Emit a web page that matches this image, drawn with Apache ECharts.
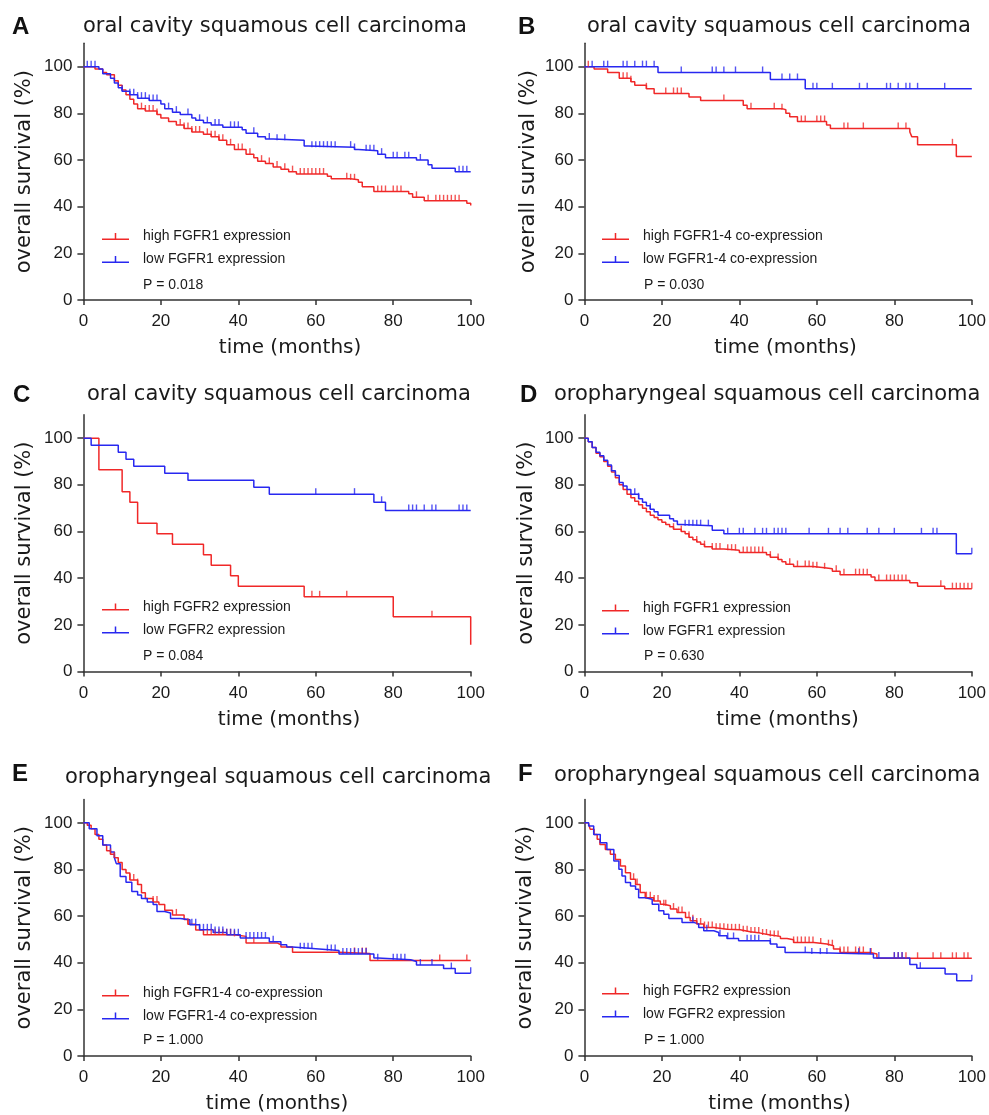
<!DOCTYPE html>
<html>
<head>
<meta charset="utf-8">
<script src="https://cdn.jsdelivr.net/npm/echarts@6/dist/echarts.min.js"></script>
<style>
html,body{margin:0;padding:0;background:#fff;}
#chart{width:989px;height:1115px;}
</style>
</head>
<body>
<div id="chart"></div>
<script>
// ---------- data ----------
const xTicks = [0, 20, 40, 60, 80, 100];
const yTicks = [0, 20, 40, 60, 80, 100];
const panelLetters = ['A', 'B', 'C', 'D', 'E', 'F'];
const panelTitles = [
  'oral cavity squamous cell carcinoma',
  'oral cavity squamous cell carcinoma',
  'oral cavity squamous cell carcinoma',
  'oropharyngeal squamous cell carcinoma',
  'oropharyngeal squamous cell carcinoma',
  'oropharyngeal squamous cell carcinoma'
];
const highNames = ['high FGFR1 expression', 'high FGFR1-4 co-expression', 'high FGFR2 expression',
                   'high FGFR1 expression', 'high FGFR1-4 co-expression', 'high FGFR2 expression'];
const lowNames = ['low FGFR1 expression', 'low FGFR1-4 co-expression', 'low FGFR2 expression',
                  'low FGFR1 expression', 'low FGFR1-4 co-expression', 'low FGFR2 expression'];
const pValues = ['P = 0.018', 'P = 0.030', 'P = 0.084', 'P = 0.630', 'P = 1.000', 'P = 1.000'];
const xName = 'time (months)';
const yName = 'overall survival (%)';

// Panel A
const A_high = [[0,100],[3,99],[5,97.5],[6,96.5],[8,94],[9,92],[10,90],[11,88],[12,86],[13,84],[14,82],[16,81],[19,79.5],[20,78],[22,76.5],[24,75],[26,73.5],[28,72],[31,71],[33,70],[35,68.5],[37,66.5],[39,64.5],[42,62.5],[44,61],[45,59.5],[47,58.5],[49,57],[51,56],[53,55],[55,54],[63,53],[64,52],[69,51.5],[71,50.5],[72,48.5],[75,46.5],[84,45.5],[85,44],[88,42.5],[99,41.5],[100,40.5]];
const A_high_cens = [15,16,17,18,19,25,26,27,28,29,30,32,33,34,35,36,38,40,41,43,46,48,50,52,54,56,57,58,59,60,61,62,68,69,70,76,77,78,80,81,82,86,89,91,92,93,94,95,96,97];
const A_low = [[0,100],[4,99],[5,97],[7,95],[8,93],[9,91],[10,89.5],[12,88],[14,86.5],[17,85.5],[20,84],[21,82],[23,80.5],[25,79.5],[28,78],[29,77],[31,76],[33,75],[36,74],[41,73],[42,71.5],[45,70],[47,69],[49,68.5],[57,66],[58,65.5],[70,64.5],[71,64],[76,62.5],[78,61],[86,60],[89,58],[90,56.5],[96,55],[100,55]];
const A_low_cens = [1,2,3,10,12,13,14,15,16,17,18,19,22,24,27,30,32,34,35,38,39,40,44,48,50,52,59,60,61,62,63,64,65,69,70,73,74,75,77,80,81,83,84,87,97,98,99];

// Panel B
const B_high = [[0,100],[2.5,99],[6,97.5],[9,95],[12,93.5],[13,92],[16,90.5],[18,88.5],[27,87],[30,85.5],[41,83.5],[42,82],[51,81.5],[52,80],[53,78.5],[55,76.5],[62.5,75],[63.5,73.5],[84,72],[84.5,70],[86,66.5],[96,61.5],[100,61.5]];
const B_high_cens = [1,10,11,12,16,21,23,24,25,36,43,49,51,56,57,60,61,62,67,68,72,81,83,95];
const B_low = [[0,100],[19,97.5],[48,94.5],[57,90.5],[100,90.5]];
const B_low_cens = [2,5,6,10,11,13,15,16,18,25,33,34,36,39,46,51,53,55,59,60,64,71,73,78,79,81,83,84,86,93];

// Panel C
const C_high = [[0,100],[4,86.5],[10,77],[12,72.5],[14,63.5],[19,59],[23,54.5],[31,50],[33,45.5],[38,41],[40,36.5],[57,32],[80,23.5],[100,11.5]];
const C_high_cens = [59,61,68,90];
const C_low = [[0,100],[2,97],[9,94],[11,91],[13,88],[21,85],[27,82],[44,79],[48,76],[75,72.5],[78,69],[100,69]];
const C_low_cens = [60,70,77,84,85,86,88,90,91,97,98,99];

// Panel D
const D_high = [[0,100],[1,98.5],[2,96],[3,93.5],[4,92],[5,90],[6,88],[7,85.5],[8,83],[9,80],[10,78],[11,76],[12,74.5],[13,73],[14,71.5],[15,70],[16,68.5],[17,67],[18,66],[19,65],[20,64],[21,63],[22,62],[23,61],[25,60],[26,59],[27,57.5],[28,56.5],[29,55.5],[30,54.5],[31,53.5],[33,52.5],[36,52],[40,51],[47,50],[48,49],[50,48],[51,47],[52,46],[54,45],[59,44.5],[62,44],[64,43],[66,41.5],[74,40.5],[75,39],[84,38],[86,36.5],[93,35.5],[100,35.5]];
const D_high_cens = [23,25,27,29,31,33,34,35,37,38,39,41,42,43,44,45,46,48,50,53,55,57,58,59,60,62,65,67,70,71,72,73,76,78,79,80,81,82,83,92,95,96,97,98,99,100];
const D_low = [[0,100],[1,98.5],[2,96],[3,94],[4,92.5],[5,90.5],[6,88.5],[7,86],[8,84],[9,81],[10,79.5],[11,78],[12,76],[14,74],[15,72.5],[16,71],[17,69.5],[18,68.5],[19,67],[22,65.5],[23,64.5],[24,63],[25,62.5],[33,60.5],[36,59],[96,50.5],[100,50.5]];
const D_low_cens = [13,14,17,26,27,28,29,30,32,37,40,41,44,46,47,49,50,51,52,58,63,66,68,73,76,80,87,90,91,100];

// Panel E
const E_high = [[0,100],[1,99],[2,97.5],[3,95],[4,93],[5,90.5],[6,88],[7,86.5],[8,85],[9,83],[10,80],[11,78.5],[12,75.5],[14,73.5],[15,70],[16,67.5],[18,66],[19.5,65],[21,62.5],[23,60.5],[26,58.5],[27,56.5],[29,54],[31,52],[39,51.3],[42,48.5],[50,47.7],[51,46.7],[54,44.5],[66,44],[74,41],[100,41]];
const E_high_cens = [7,8,12,13,14,18,19,24,27,32,33,34,35,36,37,38,39,44,70,72,73,92,99];
const E_low = [[0,100],[1.5,97.5],[3.5,94.5],[5,90.5],[7,87.5],[8,85],[8.5,82.5],[9.5,77],[11,74.5],[12.5,70.5],[14,69],[15,67.5],[16.5,66],[18,65],[19,62],[21,61.3],[22.5,59],[25,58.4],[27.5,56.3],[30,54.1],[33.5,53],[37,52],[40.5,50.6],[48,49],[51,47.7],[52.5,46.7],[54,46],[60,45.2],[66,43.7],[75,42],[76,41.3],[84.5,40.5],[86,39],[93,37.5],[96,35.5],[100,35.5]];
const E_low_cens = [28,29,30,31,32,33,34,35,36,37,38,39,40,42,43,44,45,46,47,49,56,57,58,59,63,64,65,67,68,69,70,71,72,73,76,80,81,82,83,87,90,95,100];

// Panel F
const F_high = [[0,100],[1,99.3],[1.5,97.2],[2.5,95],[3.3,93],[4,90.7],[5.4,88.6],[6.7,86.5],[8,84.3],[9.3,81.5],[10.6,78.6],[11.9,75.8],[13.2,73.6],[14.4,70.1],[15.7,67.9],[17.9,66.5],[19.6,65.1],[20.5,64.4],[22.2,63],[23.9,61.5],[26.1,59.4],[27.3,58],[29,56.6],[30.8,55.1],[33.4,54.4],[36.8,54.1],[40.2,53.3],[42.8,52.7],[45.4,51.9],[48,51.3],[50.6,50.4],[52.3,49.9],[54,48.7],[59.2,48],[62.6,47.3],[64.3,45.9],[66,44.4],[73.8,43.7],[75.5,41.9],[100,41.9]];
const F_high_cens = [12.7,13.6,16,17,18,19,20.5,21,23,24.3,25.2,27,28,29,30,31,32,33,34,35,36,37,38,39,40,41,42,43,44,45,46,47,48,49,50,54,55,56,57,58,59,61,63,64,66,67,68,70,71,72,74,80,81,82,83,86,90,92,95,96,98,99];
const F_low = [[0,100],[1.1,98.6],[2.4,95],[4.1,91.5],[5.8,88.6],[7.6,83.6],[8.9,80.1],[9.7,77.2],[10.6,74.4],[11.9,72.9],[13.2,71.5],[14,67.9],[15.7,67.2],[17.5,65.1],[19.2,62.3],[20.5,60.8],[21.8,59],[25.2,57.3],[28.2,56.6],[29.5,55.1],[30.8,53.7],[33.4,53],[34.7,51.6],[36.8,50.4],[39.8,49.4],[48,48],[49.7,46.6],[51.8,44.4],[57.4,43.7],[74.6,42],[84,39.2],[85.8,37.6],[93.1,35.2],[96.1,32.3],[100,32.3]];
const F_low_cens = [28,31.6,35,37,38.5,42,43,44,45,48,57,58.7,60.9,62.6,70.8,73.8,76,80,81,82,86.7,100];

const highCurves = [A_high, B_high, C_high, D_high, E_high, F_high];
const highCens = [A_high_cens, B_high_cens, C_high_cens, D_high_cens, E_high_cens, F_high_cens];
const lowCurves = [A_low, B_low, C_low, D_low, E_low, F_low];
const lowCens = [A_low_cens, B_low_cens, C_low_cens, D_low_cens, E_low_cens, F_low_cens];

// ---------- layout (pixels) ----------
const RED = '#f02828';
const BLUE = '#2828f0';
const AX = '#333';
const TXT = '#1a1a1a';
const colLeft = [83.4, 584.4];
const colWidth = [387.3, 387.9];
const rowTop = [43.3, 414.8, 799.5];
const rowHeight = 256.7;
const L = [
  { letterX: 12, letterY: 15, titleX: 83, titleY: 16, legX: 102, legY: 229.5, pX: 143, pY: 285, yGap: 48, xOff: 13 },
  { letterX: 518, letterY: 15, titleX: 587, titleY: 16, legX: 602, legY: 229.5, pX: 644, pY: 285, yGap: 45, xOff: 7.5 },
  { letterX: 13, letterY: 383, titleX: 87, titleY: 384, legX: 102, legY: 600, pX: 143, pY: 656, yGap: 48, xOff: 12 },
  { letterX: 520, letterY: 383, titleX: 554, titleY: 384, legX: 602, legY: 601, pX: 644, pY: 656, yGap: 47, xOff: 9.5 },
  { letterX: 12, letterY: 762, titleX: 65, titleY: 767, legX: 102, legY: 986, pX: 143, pY: 1040, yGap: 48, xOff: 0 },
  { letterX: 518, letterY: 762, titleX: 554, titleY: 765, legX: 602, legY: 984, pX: 644, pY: 1040, yGap: 48, xOff: 1.5 }
];

function stepAt(curve, t) {
  let v = curve[0][1];
  for (const p of curve) { if (p[0] <= t) v = p[1]; else break; }
  return v;
}

const legendIcon = 'path://M0,6.5H27V8H0Z M12.75,1H14.25V8H12.75Z';
const smallFont = '"Liberation Sans", Arial, sans-serif';

const grid = [], xAxis = [], yAxis = [], series = [], title = [], legend = [], graphic = [];
for (let i = 0; i < 6; i++) {
  const col = i % 2, row = Math.floor(i / 2);
  const lay = L[i];
  grid.push({ left: colLeft[col], top: rowTop[row], width: colWidth[col], height: rowHeight });
  xAxis.push({
    gridIndex: i, type: 'value', min: 0, max: 100, interval: 20,
    axisLine: { show: true, lineStyle: { color: AX, width: 1.5 } },
    axisTick: { show: true, length: 5, customValues: xTicks, lineStyle: { color: AX, width: 1.5 } },
    axisLabel: { customValues: xTicks, fontSize: 17, fontFamily: 'Liberation Sans', color: TXT, margin: 13 },
    splitLine: { show: false },
    name: xName, nameLocation: 'middle', nameGap: 38,
    nameTextStyle: { fontSize: 20, fontFamily: 'DejaVu Sans', color: TXT, padding: [0, 0, 0, lay.xOff * 2] }
  });
  yAxis.push({
    gridIndex: i, type: 'value', min: 0, max: 110,
    axisLine: { show: true, lineStyle: { color: AX, width: 1.5 } },
    axisTick: { show: true, length: 6, customValues: yTicks, lineStyle: { color: AX, width: 1.5 } },
    axisLabel: { customValues: yTicks, fontSize: 17, fontFamily: 'Liberation Sans', color: TXT, margin: 11 },
    splitLine: { show: false },
    name: yName, nameLocation: 'middle', nameGap: lay.yGap,
    nameTextStyle: { fontSize: 21, fontFamily: 'DejaVu Sans', color: TXT }
  });
  const pairs = [[highNames[i], highCurves[i], highCens[i], RED], [lowNames[i], lowCurves[i], lowCens[i], BLUE]];
  for (const [name, curve, cens, color] of pairs) {
    series.push({
      type: 'line', name: name, xAxisIndex: i, yAxisIndex: i, step: 'end',
      data: curve, showSymbol: false, symbol: 'none', color: color,
      lineStyle: { color: color, width: 1.5 }, animation: false, z: 2
    });
    series.push({
      type: 'scatter', xAxisIndex: i, yAxisIndex: i,
      data: cens.map(t => [t, stepAt(curve, t)]),
      symbol: 'rect', symbolSize: [1.4, 6], symbolOffset: [0, -3],
      itemStyle: { color: color }, animation: false, z: 3, silent: true
    });
  }
  title.push({
    text: panelLetters[i], left: lay.letterX, top: lay.letterY, padding: 0,
    textStyle: { fontSize: 24, fontWeight: 'bold', fontFamily: 'Liberation Sans', color: '#111' }
  });
  title.push({
    text: panelTitles[i], left: lay.titleX, top: lay.titleY, padding: 0,
    textStyle: { fontSize: 21, fontWeight: 'normal', fontFamily: 'DejaVu Sans', color: TXT }
  });
  legend.push({
    orient: 'vertical', left: lay.legX, top: lay.legY, padding: 0,
    itemWidth: 27, itemHeight: 7, itemGap: 9, icon: legendIcon, selectedMode: false,
    data: [highNames[i], lowNames[i]],
    textStyle: { fontFamily: smallFont, fontSize: 14, color: TXT, padding: [0, 0, 0, 9] }
  });
  graphic.push({
    type: 'text', x: lay.pX, y: lay.pY, silent: true,
    style: { text: pValues[i], fill: TXT, fontSize: 14, fontFamily: smallFont, verticalAlign: 'middle', align: 'left' }
  });
}

const chart = echarts.init(document.getElementById('chart'), null, { renderer: 'canvas' });
chart.setOption({
  backgroundColor: '#fff',
  animation: false,
  title, legend, grid, xAxis, yAxis, series, graphic
});
</script>
</body>
</html>
